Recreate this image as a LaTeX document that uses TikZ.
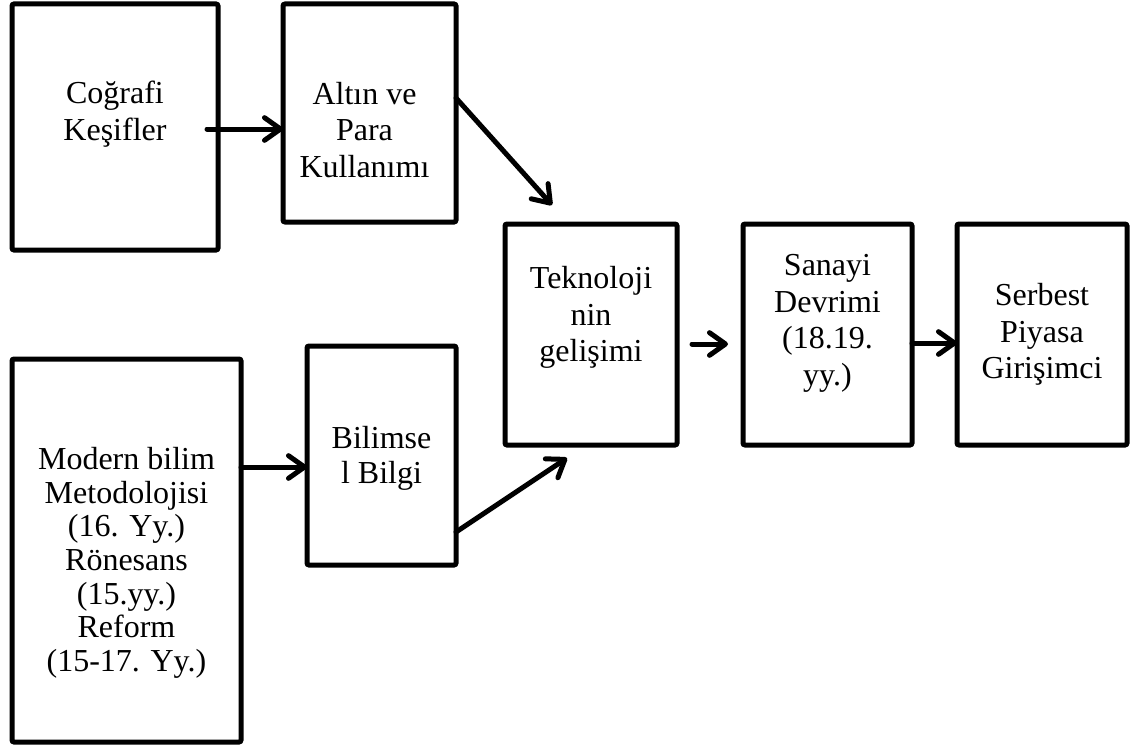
\documentclass[tikz,border=0pt]{standalone}
\usepackage{fontspec}
\setmainfont{Liberation Serif}
\usetikzlibrary{calc,positioning,arrows.meta}

\begin{document}
\begin{tikzpicture}[x=0.75pt,y=-0.75pt,>={Straight Barb[length=12pt,width=17pt,round]}]

	\tikzset{kutu/.style={
				draw=black,
				line width=3.75pt,
				rounded corners=1.5pt,
				outer sep=0pt,
				inner sep=0pt
			},
		yazi/.style={
				align=center,
				inner sep=0pt,
				font=\fontsize{24}{27.5}\selectfont
			},
		ok/.style={
				->,
				line width=3.75pt,
				line cap=round
			}
	}

	\useasboundingbox (0,0) rectangle (1131,749);

	% kutular
	\node[kutu,minimum width=154.5pt,minimum height=184.5pt] (cografi) at (115,127) {};
	\node[kutu,minimum width=129.75pt,minimum height=163.5pt] (altin) at (369.5,113) {};
	\node[kutu,minimum width=171.75pt,minimum height=287.25pt] (modern) at (126.5,550.5) {};
	\node[kutu,minimum width=111.75pt,minimum height=164.25pt] (bilimsel) at (381.5,455.5) {};
	\node[kutu,minimum width=129pt,minimum height=165.75pt] (teknoloji) at (591,334.5) {};
	\node[kutu,minimum width=126.75pt,minimum height=165.75pt] (sanayi) at (827.5,334.5) {};
	\node[kutu,minimum width=127.5pt,minimum height=165.75pt] (serbest) at (1042,334.5) {};

	% yazilar
	\node[yazi] (cografiY) at ($(cografi)+(0,-13)$) {Coğrafi\\Keşifler};
	\node[yazi] (altinY) at ($(altin)+(-5,17)$) {Altın ve\\Para\\Kullanımı};
	\node[yazi,font=\fontsize{24}{25.25}\selectfont] (modernY) at ($(modern)+(0,12.5)$) {Modern bilim\\Metodolojisi\\(16. Yy.)\\Rönesans\\(15.yy.)\\Reform\\(15-17. Yy.)};
	\node[yazi,font=\fontsize{24}{26.25}\selectfont] (bilimselY) at ($(bilimsel)+(0,3)$) {Bilimse\\l Bilgi};
	\node[yazi] (teknolojiY) at ($(teknoloji)+(0,-17)$) {Teknoloji\\nin\\gelişimi};
	\node[yazi] (sanayiY) at ($(sanayi)+(0,-11)$) {Sanayi\\Devrimi\\(18.19.\\yy.)};
	\node[yazi] (serbestY) at (serbest) {Serbest\\Piyasa\\Girişimci};

	% oklar
	\draw[ok] ($(cografi.east)+(-11,2)$) -- ($(altin.west)+(0,16)$);
	\draw[ok] ($(altin.east)+(0,-15)$) -- ($(teknoloji.north)+(-39,-19)$);
	\draw[ok] ($(modern.east)+(0,-83.5)$) -- ($(bilimsel.west)+(0,11.5)$);
	\draw[ok] ($(bilimsel.east)+(0,76.5)$) -- ($(teknoloji.south)+(-24,13)$);
	\draw[ok] ($(teknoloji.east)+(15,9.5)$) -- ($(sanayi.west)+(-15,9.5)$);
	\draw[ok] ($(sanayi.east)+(0,8.5)$) -- ($(serbest.west)+(0,8.5)$);
\end{tikzpicture}
\end{document}
